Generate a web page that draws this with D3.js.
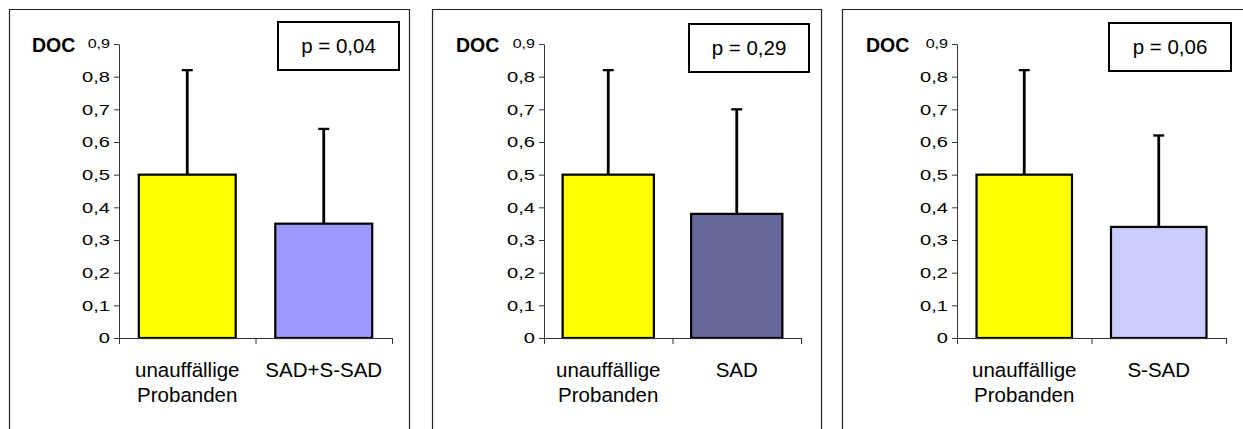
<!DOCTYPE html>
<html>
<head>
<meta charset="utf-8">
<script src="https://d3js.org/d3.v7.min.js"></script>
<style>
body { margin: 0; background: #fff; }
svg { display: block; font-family: 'Liberation Sans', Arial, sans-serif; }
</style>
</head>
<body>
<svg id="chart"></svg>
<script>
// data
var controlLabel = ["unauffällige", "Probanden"];
var groupLabels = ["SAD+S-SAD", "SAD", "S-SAD"];
var controlMeans = [0.5, 0.5, 0.5];
var controlTops = [0.82, 0.82, 0.82];   // mean + SD
var groupMeans = [0.35, 0.38, 0.34];
var groupTops = [0.64, 0.70, 0.62];
var pLabels = ["p = 0,04", "p = 0,29", "p = 0,06"];
var yTicks = [0, 0.1, 0.2, 0.3, 0.4, 0.5, 0.6, 0.7, 0.8, 0.9];

var barColors = ["#9999ff", "#666699", "#ccccff"];
var controlColor = "#ffff00";

var W = 1243, H = 429;
var svg = d3.select("#chart").attr("width", W).attr("height", H);

// panel layout (pixels)
var panels = [
	{left: 9,   right: 409,  ax0: 119, ax1: 392,  box: [278, 22, 121, 48],  doc: 32},
	{left: 432, right: 821,  ax0: 544, ax1: 801,  box: [689, 24, 120, 48],  doc: 456},
	{left: 842, right: 1260, ax0: 957, ax1: 1226, box: [1109, 23, 122, 48], doc: 866}
];

var y = d3.scaleLinear().domain([0, 0.9]).range([338, 44]);

function fmt(d) { return d === 0 ? "0" : d.toFixed(1).replace(".", ","); }

var sx = 1.34; // tick labels in the original are drawn wide

panels.forEach(function(p, i) {
	var g = svg.append("g");

	// panel frame (bottom edge is outside the picture)
	g.append("path")
	.attr("d", "M" + (p.left + 0.5) + "," + (H + 5) + "V9.5H" + (p.right + 0.5) + "V" + (H + 5))
	.attr("fill", "none")
	.attr("stroke", "#222")
	.attr("stroke-width", 1.2);

	var x = d3.scaleBand().domain([0, 1]).range([p.ax0, p.ax1])
		.paddingInner(0.29).paddingOuter(0.145);
	var xEdge = d3.scaleLinear().domain([0, 2]).range([p.ax0, p.ax1]);

	var rows = [
		{k: 0, v: controlMeans[i], top: controlTops[i], c: controlColor},
		{k: 1, v: groupMeans[i], top: groupTops[i], c: barColors[i]}
	];

	// error bars (drawn first, the bar covers the lower part)
	rows.forEach(function(d) {
		var cx = x(d.k) + x.bandwidth() / 2;
		g.append("line")
		.attr("x1", cx).attr("x2", cx)
		.attr("y1", y(d.v)).attr("y2", y(d.top))
		.attr("stroke", "#000").attr("stroke-width", 2.8);
		g.append("line")
		.attr("x1", cx - 5.5).attr("x2", cx + 5.5)
		.attr("y1", y(d.top)).attr("y2", y(d.top))
		.attr("stroke", "#000").attr("stroke-width", 2.3);
	});

	g.selectAll("rect.bar").data(rows).enter().append("rect")
	.attr("class", "bar")
	.attr("x", function(d) { return x(d.k); })
	.attr("y", function(d) { return y(d.v); })
	.attr("width", x.bandwidth())
	.attr("height", function(d) { return y(0) - y(d.v); })
	.attr("fill", function(d) { return d.c; })
	.attr("stroke", "#000")
	.attr("stroke-width", 2.2);

	// y axis
	var ya = g.append("g")
	.attr("transform", "translate(" + p.ax0 + ",0)")
	.call(d3.axisLeft(y).tickValues(yTicks).tickFormat(fmt).tickSize(5).tickSizeOuter(0).tickPadding(4));
	ya.attr("font-size", null).attr("font-family", null);
	ya.selectAll("path, line").attr("stroke", "#333");
	ya.selectAll(".tick text")
	.attr("fill", "#000")
	.attr("x", -9 / sx)
	.attr("transform", "scale(" + sx + ",1)")
	.attr("font-size", function(d) { return d === 0.9 ? 12 : 15; });

	// x axis
	var xa = g.append("g")
	.attr("transform", "translate(0," + y(0) + ")")
	.call(d3.axisBottom(xEdge).tickValues([0, 1, 2]).tickFormat("").tickSize(6).tickSizeOuter(0));
	xa.selectAll("path, line").attr("stroke", "#333");

	// category labels
	var cats = [controlLabel, [groupLabels[i]]];
	cats.forEach(function(lines, k) {
		var cx = x(k) + x.bandwidth() / 2;
		lines.forEach(function(t, j) {
			g.append("text")
			.attr("x", cx)
			.attr("y", 376.5 + j * 25.5)
			.attr("text-anchor", "middle")
			.attr("font-size", 20.5)
			.text(t);
		});
	});

	// DOC label
	g.append("text")
	.attr("x", p.doc)
	.attr("y", 52)
	.attr("font-size", 19.5)
	.attr("font-weight", "bold")
	.text("DOC");

	// p value box
	g.append("rect")
	.attr("x", p.box[0]).attr("y", p.box[1])
	.attr("width", p.box[2]).attr("height", p.box[3])
	.attr("fill", "#fff")
	.attr("stroke", "#000")
	.attr("stroke-width", 2);

	g.append("text")
	.attr("x", p.box[0] + p.box[2] / 2)
	.attr("y", p.box[1] + 31)
	.attr("text-anchor", "middle")
	.attr("font-size", 20.5)
	.text(pLabels[i]);
});
</script>
</body>
</html>
